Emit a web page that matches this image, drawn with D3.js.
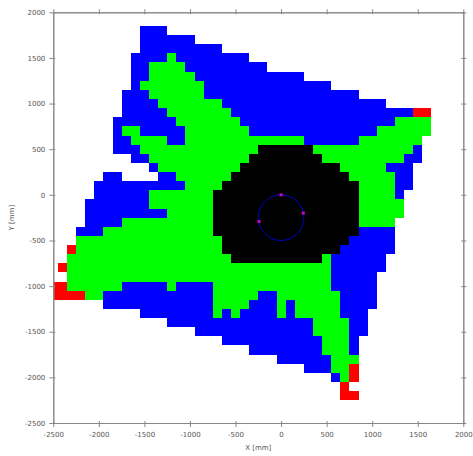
<!DOCTYPE html>
<html>
<head>
<meta charset="utf-8">
<script src="https://cdn.jsdelivr.net/npm/d3@7"></script>
<style>
  body { margin: 0; background: #fff; }
  text { font-family: "DejaVu Sans", sans-serif; }
</style>
</head>
<body>
<svg id="map" width="473" height="456"></svg>
<script>
// cell rows (y centre, mm) and runs of cells "code x0 x1" (cell centres, mm)
const rowY = [1800, 1700, 1600, 1500, 1400, 1300, 1200, 1100, 1000, 900, 800, 700, 600, 500, 400, 300, 200, 100, 0,
  -100, -200, -300, -400, -500, -600, -700, -800, -900, -1000, -1100, -1200, -1300, -1400, -1500, -1600, -1700,
  -1800, -1900, -2000, -2100, -2200]

const rowRuns = [
  'b -1500 -1300',
  'b -1500 -1000',
  'b -1500 -700',
  'b -1600 -1300, g -1200 -1200, b -1100 -400',
  'b -1600 -1500, g -1400 -1100, b -1000 -200',
  'b -1600 -1500, g -1400 -1000, b -900 200',
  'b -1600 -1600, g -1500 -900, b -800 500',
  'b -1700 -1500, g -1400 -900, b -800 800',
  'b -1700 -1400, g -1300 -700, b -600 1100',
  'b -1700 -1300, g -1200 -600, b -500 1400, r 1500 1600',
  'b -1800 -1200, g -1100 -500, b -400 1200, g 1300 1600',
  'b -1800 -1800, g -1700 -1600, b -1500 -1100, g -1000 -400, b -300 1000, g 1100 1600',
  'b -1800 -1700, g -1600 -1300, b -1200 -1100, g -1000 200, b 300 800, g 900 1500',
  'b -1800 -1600, g -1500 -300, k -200 300, g 400 1400, b 1500 1500',
  'b -1600 -1500, g -1400 -400, k -300 400, g 500 1300, b 1400 1500',
  'b -1400 -1400, g -1300 -500, k -400 600, g 700 1100, b 1200 1400',
  'b -1900 -1800, b -1300 -1200, g -1100 -600, k -500 700, g 800 1200, b 1300 1400',
  'b -2000 -1100, g -1000 -700, k -600 800, g 900 1200, b 1300 1400',
  'b -2000 -1500, g -1400 -800, k -700 800, g 900 1200, b 1300 1300',
  'b -2100 -1500, g -1400 -800, k -700 800, g 900 1300',
  'b -2100 -1300, g -1200 -800, k -700 800, g 900 1300',
  'b -2100 -1800, g -1700 -800, k -700 800, g 900 1200',
  'b -2200 -2000, g -1900 -800, k -700 800, b 900 1200',
  'g -2200 -700, k -600 700, b 800 1200',
  'r -2300 -2300, g -2200 -700, k -600 600, b 700 1200',
  'g -2300 -600, k -500 400, g 500 500, b 600 1100',
  'r -2400 -2400, g -2300 500, b 600 1100',
  'g -2300 500, b 600 1000',
  'r -2500 -2400, g -2300 -1800, b -1700 -1300, g -1200 -1200, b -1100 -800, g -700 500, b 600 1000',
  'r -2500 -2200, g -2100 -2000, b -1900 -800, g -700 -300, b -200 -100, g 0 600, b 700 1000',
  'b -1900 -800, g -700 -400, b -300 -100, g 0 0, b 100 100, g 200 600, b 700 1000',
  'b -1500 -800, g -700 -700, b -600 -600, g -500 -500, b -400 -100, g 0 0, b 100 100, g 200 600, b 700 900',
  'b -1200 300, g 400 700, b 800 900',
  'b -900 300, g 400 700, b 800 900',
  'b -600 400, g 500 700, b 800 800',
  'b -300 400, g 500 700, b 800 800',
  'b 0 500, g 600 800',
  'b 300 500, g 600 700, r 800 800',
  'b 600 600, g 700 700, r 800 800',
  'r 700 700',
  'r 700 800'
]

// circle fitted through the three points
const circleCentre = [0, -250]
const circleRadius = 250
const pointsX = [0, 244, -242]
const pointsY = [0, -200, -292]

const xTicks = [-2500, -2000, -1500, -1000, -500, 0, 500, 1000, 1500, 2000]
const yTicks = [-2500, -2000, -1500, -1000, -500, 0, 500, 1000, 1500, 2000]

const colors = { b: '#0000ff', g: '#00ff00', k: '#000000', r: '#ff0000' }
const cell = 100

const svg = d3.select('#map')
const mLeft = 53.3
const mRight = 463.3
const mTop = 12.3
const mBottom = 423

const x = d3.scaleLinear().domain([-2500, 2000]).range([mLeft, mRight])
const y = d3.scaleLinear().domain([-2500, 2000]).range([mBottom, mTop])

svg.append('clipPath').attr('id', 'clip')
  .append('rect')
  .attr('x', mLeft).attr('y', mTop)
  .attr('width', mRight - mLeft).attr('height', mBottom - mTop)

const runs = []
rowY.forEach((cy, i) => {
  rowRuns[i].split(',').forEach(s => {
    const [c, a, b] = s.trim().split(' ')
    runs.push({ cy, c, x0: +a, x1: +b })
  })
})

const plot = svg.append('g').attr('clip-path', 'url(#clip)')

plot.selectAll('rect.cell')
  .data(runs)
  .enter().append('rect')
  .attr('class', 'cell')
  .attr('x', d => x(d.x0 - cell / 2))
  .attr('width', d => x(d.x1 + cell / 2) - x(d.x0 - cell / 2))
  .attr('y', d => y(d.cy + cell / 2))
  .attr('height', d => y(d.cy - cell / 2) - y(d.cy + cell / 2))
  .attr('fill', d => colors[d.c])
  .attr('shape-rendering', 'crispEdges')

plot.append('ellipse')
  .attr('cx', x(circleCentre[0]))
  .attr('cy', y(circleCentre[1]))
  .attr('rx', x(circleRadius) - x(0))
  .attr('ry', y(0) - y(circleRadius))
  .attr('fill', 'none')
  .attr('stroke', '#0000c8')
  .attr('stroke-width', 1)

plot.selectAll('rect.pt')
  .data(pointsX.map((px, i) => [px, pointsY[i]]))
  .enter().append('rect')
  .attr('class', 'pt')
  .attr('x', d => x(d[0]) - 1.5)
  .attr('y', d => y(d[1]) - 1.5)
  .attr('width', 3)
  .attr('height', 3)
  .attr('fill', '#cc00cc')

// axes: ticks straddle the frame on every side
const axisColor = '#888'
function styleAxis (g) {
  g.selectAll('path, line').attr('stroke', axisColor)
  g.selectAll('text').attr('fill', '#555').style('font-size', '7px')
}
const fmt = d => String(d)

svg.append('g').attr('transform', `translate(0,${mBottom})`)
  .call(d3.axisBottom(x).tickValues(xTicks).tickFormat(fmt).tickSize(4).tickSizeOuter(0).tickPadding(5))
  .call(styleAxis)
svg.append('g').attr('transform', `translate(0,${mBottom})`)
  .call(d3.axisBottom(x).tickValues(xTicks).tickFormat('').tickSize(-2).tickSizeOuter(0))
  .call(styleAxis)
svg.append('g').attr('transform', `translate(${mLeft},0)`)
  .call(d3.axisLeft(y).tickValues(yTicks).tickFormat(fmt).tickSize(4).tickSizeOuter(0).tickPadding(4))
  .call(styleAxis)
svg.append('g').attr('transform', `translate(${mLeft},0)`)
  .call(d3.axisLeft(y).tickValues(yTicks).tickFormat('').tickSize(-2).tickSizeOuter(0))
  .call(styleAxis)
svg.append('g').attr('transform', `translate(0,${mTop})`)
  .call(d3.axisTop(x).tickValues(xTicks).tickFormat('').tickSize(3).tickSizeOuter(0))
  .call(styleAxis)
svg.append('g').attr('transform', `translate(0,${mTop})`)
  .call(d3.axisTop(x).tickValues(xTicks).tickFormat('').tickSize(-2).tickSizeOuter(0))
  .call(styleAxis)
svg.append('g').attr('transform', `translate(${mRight},0)`)
  .call(d3.axisRight(y).tickValues(yTicks).tickFormat('').tickSize(3).tickSizeOuter(0))
  .call(styleAxis)
svg.append('g').attr('transform', `translate(${mRight},0)`)
  .call(d3.axisRight(y).tickValues(yTicks).tickFormat('').tickSize(-2).tickSizeOuter(0))
  .call(styleAxis)

svg.append('text')
  .attr('x', (mLeft + mRight) / 2)
  .attr('y', 450)
  .attr('text-anchor', 'middle')
  .attr('fill', '#555')
  .style('font-size', '7px')
  .text('X [mm]')

svg.append('text')
  .attr('transform', `translate(14,${(mTop + mBottom) / 2}) rotate(-90)`)
  .attr('text-anchor', 'middle')
  .attr('fill', '#555')
  .style('font-size', '7px')
  .text('Y [mm]')
</script>
</body>
</html>
